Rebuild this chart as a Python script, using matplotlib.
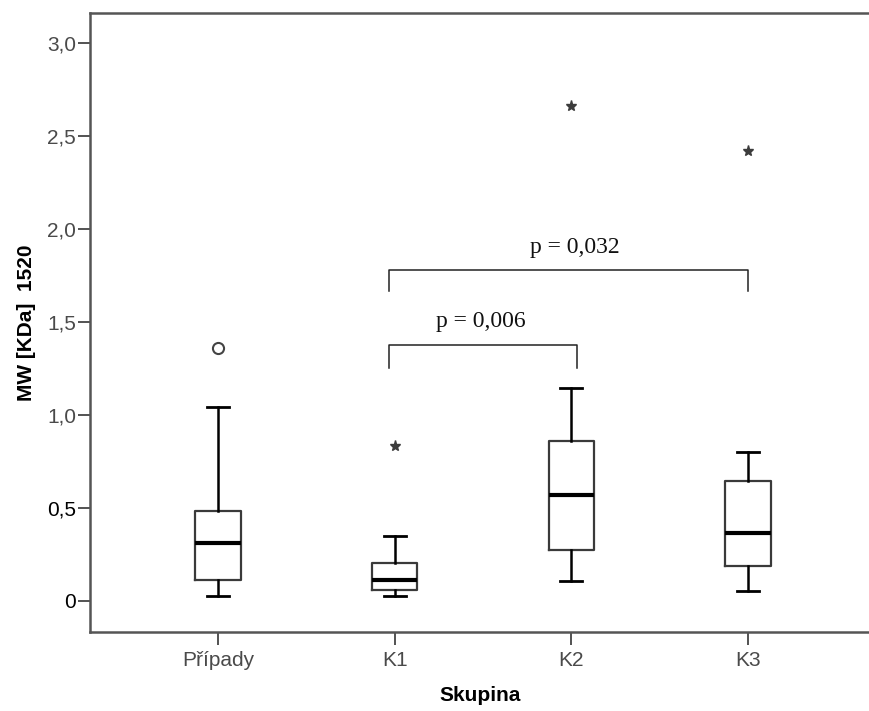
import matplotlib
matplotlib.use("Agg")
from matplotlib import pyplot as plt

# data
groups = ['Případy', 'K1', 'K2', 'K3']
whis_lo = [0.025, 0.025, 0.105, 0.052]
q1 = [0.115, 0.061, 0.276, 0.186]
median = [0.314, 0.11, 0.567, 0.365]
q3 = [0.484, 0.204, 0.862, 0.643]
whis_hi = [1.04, 0.35, 1.143, 0.80]
outliers = [[1.362], [], [], []]          # open circles
extremes = [[], [0.832], [2.66], [2.42]]  # stars

# significance brackets: (x start, x end, bar height, leg bottom, label, label x, label y)
brackets = [
    (1.97, 3.03, 1.373, 1.253, 'p = 0,006', 2.49, 1.50),
    (1.97, 4.00, 1.780, 1.665, 'p = 0,032', 3.02, 1.90),
]


def main():
    fig = plt.figure(figsize=(8.7, 7.11), dpi=100)
    ax = fig.add_axes([0.1034, 0.1111, 0.8966, 0.8706])

    stats = []
    for i, g in enumerate(groups):
        stats.append({
            'label': g, 'whislo': whis_lo[i], 'q1': q1[i], 'med': median[i],
            'q3': q3[i], 'whishi': whis_hi[i], 'fliers': outliers[i],
        })

    pos = list(range(1, len(groups) + 1))
    ax.bxp(stats, positions=pos, widths=0.257, showfliers=True,
           boxprops=dict(color='#3a3a3a', linewidth=1.6),
           medianprops=dict(color='black', linewidth=3),
           whiskerprops=dict(color='black', linewidth=1.8),
           capprops=dict(color='black', linewidth=2),
           capwidths=0.125,
           flierprops=dict(marker='o', markersize=8, markerfacecolor='none',
                           markeredgecolor='#444444', markeredgewidth=1.5))

    for i, vals in enumerate(extremes):
        if vals:
            ax.plot([pos[i]] * len(vals), vals, linestyle='none', marker='*',
                    markersize=8, color='#3c3c3c')

    for x0, x1, h, leg, txt, tx, ty in brackets:
        ax.plot([x0, x0, x1, x1], [leg, h, h, leg], color='#222222', linewidth=1.1)
        ax.text(tx, ty, txt, ha='center', va='center', fontsize=17,
                family='Liberation Serif', color='#111111')

    ax.set_xlim(0.276, 4.69)
    ax.set_ylim(-0.167, 3.16)
    ax.set_xticks(pos)
    ax.set_xticklabels(groups)
    ax.set_yticks([0, 0.5, 1.0, 1.5, 2.0, 2.5, 3.0])
    ax.set_yticklabels(['0', '0,5', '1,0', '1,5', '2,0', '2,5', '3,0'])
    ax.tick_params(axis='both', direction='out', length=9, width=1.3,
                   color='#444444', labelsize=15, labelcolor='#4a4a4a')
    ax.tick_params(axis='x', pad=5)
    ax.tick_params(axis='y', pad=1)
    for lab in ax.get_xticklabels() + ax.get_yticklabels():
        lab.set_family('Liberation Sans')
    # the two lowest y labels are black in the original
    for lab in ax.get_yticklabels()[:2]:
        lab.set_color('black')

    for side in ['left', 'top', 'bottom']:
        ax.spines[side].set_color('#555555')
        ax.spines[side].set_linewidth(1.8)
    ax.spines['right'].set_visible(False)

    ax.set_xlabel('Skupina', fontsize=15, fontweight='bold',
                  family='Liberation Sans', labelpad=11)
    ax.set_ylabel('MW [KDa]  1520', fontsize=15, fontweight='bold',
                  family='Liberation Sans', labelpad=8)

    fig.savefig('out.png', dpi=100)


if __name__ == "__main__":
    main()
